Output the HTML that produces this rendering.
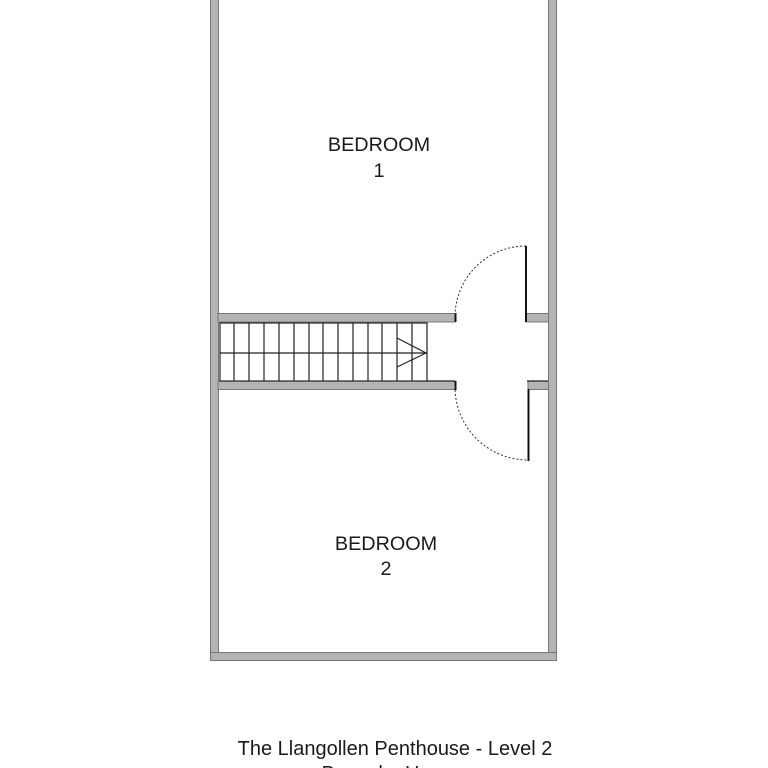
<!DOCTYPE html>
<html><head><style>
html,body{margin:0;padding:0;background:#fff;}
svg{display:block;}
text{font-family:"Liberation Sans",Arial,sans-serif;fill:#1a1a1a;}
</style></head><body>
<svg width="768" height="768" viewBox="0 0 768 768">
<g fill="#b4b4b4" stroke="#777" stroke-width="1">
<rect x="210.5" y="-5" width="8" height="665"/>
<rect x="548.5" y="-5" width="8" height="665"/>
<rect x="210.5" y="652.5" width="346" height="8"/>
<rect x="218" y="313.5" width="237" height="8.5"/>
<rect x="526" y="313.5" width="22.5" height="8.5"/>
<rect x="218" y="381" width="237" height="8.5"/>
<rect x="528" y="381" width="20.5" height="8.5"/>
</g>
<g stroke="#222" stroke-width="1.2" fill="none">
<rect x="220" y="323" width="207" height="58" fill="#fff"/>
<line x1="220" y1="353" x2="427" y2="353"/>
<line x1="234" y1="323" x2="234" y2="381"/>
<line x1="249" y1="323" x2="249" y2="381"/>
<line x1="264" y1="323" x2="264" y2="381"/>
<line x1="279" y1="323" x2="279" y2="381"/>
<line x1="294" y1="323" x2="294" y2="381"/>
<line x1="309" y1="323" x2="309" y2="381"/>
<line x1="323" y1="323" x2="323" y2="381"/>
<line x1="338" y1="323" x2="338" y2="381"/>
<line x1="353" y1="323" x2="353" y2="381"/>
<line x1="368" y1="323" x2="368" y2="381"/>
<line x1="382" y1="323" x2="382" y2="381"/>
<line x1="397" y1="323" x2="397" y2="381"/>
<line x1="412" y1="323" x2="412" y2="381"/>
<polyline points="397,338 426,353 397,367"/>
<line x1="427" y1="381" x2="455" y2="381"/>
<line x1="527" y1="381" x2="548" y2="381"/>
</g>
<g stroke="#111" stroke-width="2" fill="none">
<line x1="455.5" y1="313" x2="455.5" y2="322"/>
<line x1="526" y1="246" x2="526" y2="322"/>
<line x1="455.5" y1="381" x2="455.5" y2="390"/>
<line x1="528.5" y1="389" x2="528.5" y2="461"/>
</g>
<g stroke="#333" stroke-width="1" stroke-dasharray="2,2" fill="none">
<path d="M526 246 A71 71 0 0 0 455 317"/>
<path d="M455 386 A73 73 0 0 0 528 460"/>
</g>
<text x="379" y="151" font-size="19.8" text-anchor="middle">BEDROOM</text>
<text x="379" y="177" font-size="19.8" text-anchor="middle">1</text>
<text x="386" y="550" font-size="19.8" text-anchor="middle">BEDROOM</text>
<text x="386" y="575" font-size="19.8" text-anchor="middle">2</text>
<text x="395" y="755" font-size="20" text-anchor="middle">The Llangollen Penthouse - Level 2</text>
<text x="395" y="780" font-size="20" text-anchor="middle">Bespoke Homes</text>
</svg>
</body></html>
